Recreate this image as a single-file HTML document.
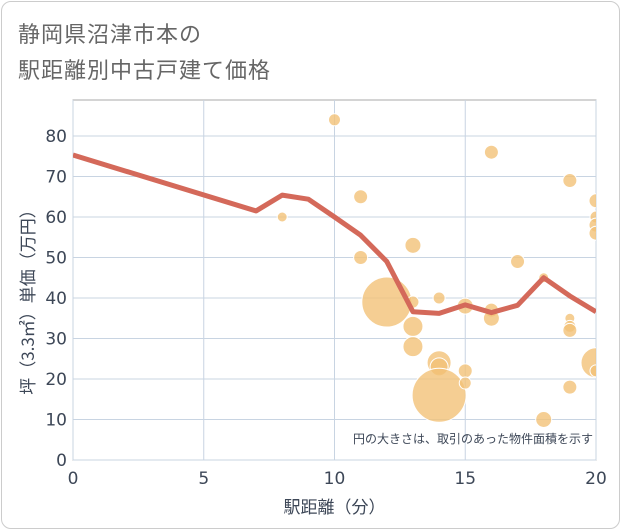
<!DOCTYPE html>
<html><head><meta charset="utf-8"><style>
body{margin:0;background:#fff;font-family:"DejaVu Sans","Noto Sans CJK JP",sans-serif;}
#card{position:absolute;left:1px;top:1px;width:617px;height:526px;border:1px solid #ccc;border-radius:10px;background:#fff;}
.title{position:absolute;left:16px;font-size:22px;color:#666;letter-spacing:1px;font-family:"Noto Sans CJK JP",sans-serif}
</style></head><body>
<div id="card">
<div class="title" style="top:15px">静岡県沼津市本の</div>
<div class="title" style="top:51px">駅距離別中古戸建て価格</div>
</div>
<svg id="chart" width="621" height="530" style="position:absolute;left:0;top:0"></svg>
<script>
const lineX=[0,7,8,9,10,11,12,13,14,15,16,17,18,19,20];
const lineY=[75.3,61.5,65.4,64.4,60,55.5,49,36.6,36.2,38.3,36.4,38.2,45,40.5,36.6];
const bubX=[8,10,11,11,12,13,13,13,13,14,14,14,14,15,15,15,16,16,16,17,18,18,19,19,19,19,19,20,20,20,20,20,20];
const bubY=[60,84,65,50,39,53,39,33,28,40,24,23,16,38,22,19,76,37,35,49,45,10,69,35,33,32,18,64,60,58,56,24,22];
const bubR=[5,6,7,7,25,8,6,10,10,6,12,9,27,8,7,6,7,7,8,7,5,8,7,5,6,7,7,7,6,7,7,15,6];
const xTicks=[0,5,10,15,20];
const yTicks=[0,10,20,30,40,50,60,70,80];
const L=73,R=596,T=100,B=460;
const sx=v=>L+(R-L)*v/20, sy=v=>B-(B-136)*v/80;
const svg=document.getElementById('chart');const NS='http://www.w3.org/2000/svg';
function mk(t,a,p){const e=document.createElementNS(NS,t);for(const k in a)e.setAttribute(k,a[k]);(p||svg).appendChild(e);return e;}
const bg=mk('rect',{x:L,y:T,width:R-L,height:B-T,fill:'#fff',stroke:'#aaa','stroke-width':1});


const defs=mk('defs',{});const cp=mk('clipPath',{id:'c'},defs);mk('rect',{x:L,y:T,width:R-L,height:B-T},cp);
yTicks.forEach(v=>{const g=mk('line',{x1:L,x2:R,y1:sy(v),y2:sy(v),stroke:'#c8d4e2','stroke-width':1});


const t=mk('text',{x:L-6,y:sy(v)+6,'text-anchor':'end','font-size':17,fill:'#3d4757'});t.textContent=v;

});
xTicks.forEach(v=>{const g=mk('line',{x1:sx(v),x2:sx(v),y1:T,y2:B,stroke:'#c8d4e2','stroke-width':1});


const t=mk('text',{x:sx(v),y:B+24,'text-anchor':'middle','font-size':17,fill:'#3d4757'});t.textContent=v;

});
const bg2=mk('g',{'clip-path':'url(#c)'});
bubX.forEach((x,i)=>{const c=mk('circle',{cx:sx(x),cy:sy(bubY[i]),r:bubR[i],fill:'#f2c278','fill-opacity':0.8,stroke:'#fff','stroke-width':1},bg2);

});
const pl=mk('polyline',{points:lineX.map((x,i)=>sx(x)+','+sy(lineY[i])).join(' '),fill:'none',stroke:'#d4695a','stroke-width':5,'stroke-linejoin':'round','clip-path':'url(#c)'});


const note=mk('text',{x:593,y:443,'text-anchor':'end','font-size':12,fill:'#3d4757','font-family':'Noto Sans CJK JP, sans-serif'});note.textContent='円の大きさは、取引のあった物件面積を示す';


const xt=mk('text',{x:sx(10),y:513,'text-anchor':'middle','font-size':17,fill:'#3d4757','font-family':'Noto Sans CJK JP, sans-serif'});xt.textContent='駅距離（分）';


const yt=mk('text',{x:0,y:0,'text-anchor':'middle','font-size':17,fill:'#3d4757','font-family':'Noto Sans CJK JP, sans-serif',transform:'translate(34,298) rotate(-90)'});yt.textContent='坪（3.3㎡）単価（万円）';


</script>
</body></html>
